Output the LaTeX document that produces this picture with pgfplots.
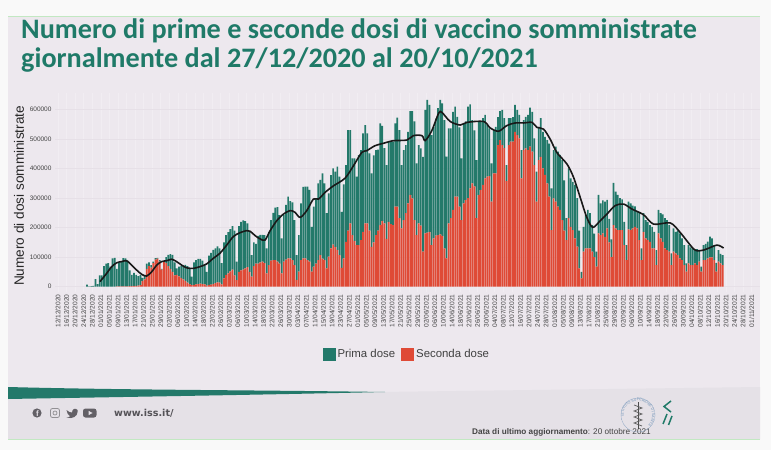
\documentclass[border=0pt]{standalone}
\usepackage{fontspec}
\setmainfont{Liberation Sans}
\newfontfamily\titlefont{Carlito}
\newfontfamily\wwwfont{DejaVu Sans}
\usepackage{pgfplots}
\pgfplotsset{compat=1.18}
\usetikzlibrary{decorations.text}
\definecolor{slide}{HTML}{EDE8EE}
\definecolor{outer}{HTML}{F9F9F9}
\definecolor{foot}{HTML}{E5E1E7}
\definecolor{paleg}{HTML}{C2E8C2}
\definecolor{verde}{HTML}{23796A}
\definecolor{rosso}{HTML}{DF4A36}
\definecolor{titolo}{HTML}{1F7A68}
\definecolor{grigio}{HTML}{444444}
\definecolor{griglia}{HTML}{F1EDF2}
\definecolor{grigliay}{HTML}{E6E0E7}
\definecolor{icona}{HTML}{636066}
\definecolor{anello}{HTML}{6F93B8}
\begin{document}
\begin{tikzpicture}
\path[use as bounding box] (0,0) rectangle (771pt,450pt);
\begin{scope}[x=1pt,y=-1pt,shift={(0pt,450pt)}]
\fill[outer] (0,0) rectangle (771,450);
\fill[slide] (8,17) rectangle (760,440);
\fill[foot] (8,398) -- (380,392) -- (760,387) -- (760,439) -- (8,439) -- cycle;
\fill[paleg] (8,16) rectangle (760,17);
\fill[paleg] (8,438.5) rectangle (760,440);
\fill[verde] (8,387) .. controls (120,390) and (250,390) .. (385,392) .. controls (250,395) and (120,397) .. (8,399) -- cycle;
\end{scope}
\begin{axis}[
  at={(55pt,158pt)},anchor=south west,scale only axis,width=705pt,height=199pt,
  xmin=0.1,xmax=329.4,ymin=-18000,ymax=656600,
  ybar stacked,bar width=1.7pt,
  axis line style={draw=none},tick style={draw=none},
  xtick={1.5,5.5,...,325.5},
  xticklabels={12/12/2020,16/12/2020,20/12/2020,24/12/2020,28/12/2020,01/01/2021,05/01/2021,09/01/2021,13/01/2021,17/01/2021,21/01/2021,25/01/2021,29/01/2021,02/02/2021,06/02/2021,10/02/2021,14/02/2021,18/02/2021,22/02/2021,26/02/2021,02/03/2021,06/03/2021,10/03/2021,14/03/2021,18/03/2021,22/03/2021,26/03/2021,30/03/2021,03/04/2021,07/04/2021,11/04/2021,15/04/2021,19/04/2021,23/04/2021,27/04/2021,01/05/2021,05/05/2021,09/05/2021,13/05/2021,17/05/2021,21/05/2021,25/05/2021,29/05/2021,02/06/2021,06/06/2021,10/06/2021,14/06/2021,18/06/2021,22/06/2021,26/06/2021,30/06/2021,04/07/2021,08/07/2021,12/07/2021,16/07/2021,20/07/2021,24/07/2021,28/07/2021,01/08/2021,05/08/2021,09/08/2021,13/08/2021,17/08/2021,21/08/2021,25/08/2021,29/08/2021,02/09/2021,06/09/2021,10/09/2021,14/09/2021,18/09/2021,22/09/2021,26/09/2021,30/09/2021,04/10/2021,08/10/2021,12/10/2021,16/10/2021,20/10/2021,24/10/2021,28/10/2021,01/11/2021},
  x tick label style={rotate=90,anchor=east,font=\fontsize{6.6}{7}\selectfont,text=grigio,yshift=0pt},
  xticklabel shift=-1pt,
  ytick={0,100000,200000,300000,400000,500000,600000},
  scaled y ticks=false,
  y tick label style={font=\fontsize{6.5}{7}\selectfont,text=grigio,/pgf/number format/fixed,/pgf/number format/1000 sep={},/pgf/number format/assume math mode=true},
  ymajorgrids,xmajorgrids,
  x grid style={griglia,line width=0.6pt},
  y grid style={grigliay,line width=0.5pt},
  ylabel={Numero di dosi somministrate},
  ylabel style={font=\fontsize{13.6}{15}\selectfont,text=black!85,at={(axis description cs:-0.051,0.483)},anchor=center},
  legend style={at={(0.499,-0.3116)},anchor=center,draw=none,fill=none,legend columns=2,font=\fontsize{11.4}{13}\selectfont,text=black!75,/tikz/every even column/.append style={column sep=4pt}},
  reverse legend,
  legend image code/.code={\fill[#1] (0pt,-6.5pt) rectangle (13pt,6.5pt);},
]
\addplot[fill=rosso,draw=none] coordinates {(15,0)(16,0)(17,0)(18,0)(19,0)(20,0)(21,0)(22,0)(23,0)(24,0)(25,0)(26,0)(27,0)(28,0)(29,1000)(30,1000)(31,1000)(32,1000)(33,1000)(34,1000)(35,2000)(36,2000)(37,3000)(38,3000)(39,4000)(40,5000)(41,20000)(42,25000)(43,60000)(44,70000)(45,65000)(46,80000)(47,92000)(48,95000)(49,85000)(50,58000)(51,85000)(52,80000)(53,70000)(54,60000)(55,50000)(56,38000)(57,40000)(58,35000)(59,30000)(60,25000)(61,20000)(62,14000)(63,9000)(64,5000)(65,6000)(66,8000)(67,9000)(68,10000)(69,9000)(70,8000)(71,4000)(72,6000)(73,7000)(74,9000)(75,12000)(76,15000)(77,14000)(78,8000)(79,28000)(80,40000)(81,45000)(82,52000)(83,58000)(84,38000)(85,22000)(86,50000)(87,55000)(88,58000)(89,62000)(90,66000)(91,50000)(92,34000)(93,70000)(94,78000)(95,78000)(96,82000)(97,85000)(98,80000)(99,45000)(100,73000)(101,88000)(102,90000)(103,90000)(104,85000)(105,78000)(106,45000)(107,85000)(108,92000)(109,96000)(110,96000)(111,90000)(112,73000)(113,23000)(114,51000)(115,90000)(116,96000)(117,96000)(118,90000)(119,85000)(120,51000)(121,68000)(122,78000)(123,90000)(124,107000)(125,95000)(126,90000)(127,62000)(128,102000)(129,130000)(130,143000)(131,135000)(132,125000)(133,107000)(134,64000)(135,96000)(136,152000)(137,190000)(138,215000)(139,175000)(140,155000)(141,141000)(142,141000)(143,158000)(144,186000)(145,215000)(146,215000)(147,190000)(148,135000)(149,150000)(150,175000)(151,190000)(152,209000)(153,223000)(154,215000)(155,162000)(156,220000)(157,212000)(158,209000)(159,271000)(160,271000)(161,232000)(162,198000)(163,226000)(164,249000)(165,282000)(166,311000)(167,299000)(168,226000)(169,175000)(170,215000)(171,207000)(172,119000)(173,181000)(174,183000)(175,186000)(176,141000)(177,164000)(178,173000)(179,175000)(180,177000)(181,172000)(182,130000)(183,96000)(184,215000)(185,232000)(186,260000)(187,305000)(188,305000)(189,271000)(190,226000)(191,282000)(192,294000)(193,300000)(194,333000)(195,350000)(196,340000)(197,232000)(198,311000)(199,328000)(200,345000)(201,367000)(202,373000)(203,375000)(204,288000)(205,384000)(206,384000)(207,480000)(208,497000)(209,480000)(210,470000)(211,358000)(212,480000)(213,492000)(214,492000)(215,525000)(216,514000)(217,503000)(218,367000)(219,463000)(220,469000)(221,463000)(222,475000)(223,458000)(224,412000)(225,288000)(226,429000)(227,440000)(228,401000)(229,379000)(230,350000)(231,305000)(232,192000)(233,299000)(234,288000)(235,271000)(236,260000)(237,226000)(238,190000)(239,158000)(240,232000)(241,203000)(242,192000)(243,164000)(244,136000)(245,62000)(246,28000)(247,119000)(248,130000)(249,130000)(250,130000)(251,119000)(252,100000)(253,68000)(254,181000)(255,175000)(256,181000)(257,169000)(258,198000)(259,150000)(260,100000)(261,209000)(262,198000)(263,192000)(264,192000)(265,192000)(266,141000)(267,90000)(268,194000)(269,192000)(270,198000)(271,203000)(272,198000)(273,158000)(274,90000)(275,186000)(276,164000)(277,158000)(278,152000)(279,130000)(280,130000)(281,73000)(282,181000)(283,164000)(284,152000)(285,130000)(286,124000)(287,119000)(288,73000)(289,119000)(290,113000)(291,107000)(292,96000)(293,90000)(294,73000)(295,51000)(296,79000)(297,73000)(298,73000)(299,79000)(300,73000)(301,85000)(302,51000)(303,90000)(304,90000)(305,96000)(306,99000)(307,99000)(308,90000)(309,51000)(310,85000)(311,79000)(312,73000)};
\addlegendentry{Seconda dose}
\addplot[fill=verde,draw=none] coordinates {(15,7000)(16,1000)(17,2000)(18,3000)(19,26000)(20,9000)(21,38000)(22,38000)(23,70000)(24,78000)(25,80000)(26,68000)(27,96000)(28,98000)(29,59000)(30,79000)(31,83000)(32,96000)(33,95000)(34,87000)(35,53000)(36,38000)(37,44000)(38,37000)(39,32000)(40,34000)(41,10000)(42,15000)(43,18000)(44,12000)(45,8000)(46,5000)(47,5000)(48,3000)(49,5000)(50,2000)(51,2000)(52,20000)(53,38000)(54,50000)(55,58000)(56,44000)(57,22000)(58,33000)(59,40000)(60,47000)(61,54000)(62,56000)(63,51000)(64,29000)(65,76000)(66,82000)(67,85000)(68,84000)(69,79000)(70,67000)(71,46000)(72,99000)(73,108000)(74,116000)(75,118000)(76,122000)(77,116000)(78,72000)(79,122000)(80,135000)(81,140000)(82,143000)(83,147000)(84,152000)(85,63000)(86,155000)(87,165000)(88,167000)(89,160000)(90,149000)(91,136000)(92,73000)(93,80000)(94,67000)(95,94000)(96,94000)(97,91000)(98,95000)(99,85000)(100,113000)(101,138000)(102,160000)(103,178000)(104,185000)(105,165000)(106,119000)(107,158000)(108,185000)(109,209000)(110,194000)(111,196000)(112,153000)(113,84000)(114,124000)(115,192000)(116,242000)(117,243000)(118,249000)(119,243000)(120,152000)(121,203000)(122,222000)(123,260000)(124,255000)(125,289000)(126,260000)(127,187000)(128,214000)(129,248000)(130,258000)(131,255000)(132,282000)(133,266000)(134,190000)(135,251000)(136,260000)(137,341000)(138,316000)(139,260000)(140,280000)(141,232000)(142,305000)(143,305000)(144,334000)(145,333000)(146,305000)(147,262000)(148,249000)(149,295000)(150,288000)(151,275000)(152,345000)(153,322000)(154,255000)(155,250000)(156,270000)(157,278000)(158,283000)(159,283000)(160,302000)(161,299000)(162,214000)(163,237000)(164,231000)(165,243000)(166,284000)(167,296000)(168,334000)(169,243000)(170,265000)(171,262000)(172,321000)(173,418000)(174,450000)(175,430000)(176,373000)(177,378000)(178,397000)(179,430000)(180,456000)(181,449000)(182,435000)(183,345000)(184,322000)(185,305000)(186,333000)(187,305000)(188,271000)(189,269000)(190,209000)(191,272000)(192,266000)(193,310000)(194,285000)(195,215000)(196,190000)(197,197000)(198,248000)(199,231000)(200,226000)(201,215000)(202,175000)(203,162000)(204,130000)(205,147000)(206,158000)(207,95000)(208,98000)(209,119000)(210,101000)(211,54000)(212,91000)(213,79000)(214,83000)(215,91000)(216,85000)(217,79000)(218,96000)(219,102000)(220,107000)(221,119000)(222,132000)(223,135000)(224,91000)(225,102000)(226,113000)(227,131000)(228,124000)(229,129000)(230,147000)(231,180000)(232,141000)(233,164000)(234,187000)(235,187000)(236,187000)(237,203000)(238,170000)(239,74000)(240,169000)(241,164000)(242,163000)(243,181000)(244,164000)(245,128000)(246,22000)(247,84000)(248,113000)(249,130000)(250,119000)(251,90000)(252,80000)(253,51000)(254,130000)(255,107000)(256,112000)(257,119000)(258,96000)(259,80000)(260,60000)(261,143000)(262,124000)(263,119000)(264,108000)(265,104000)(266,79000)(267,51000)(268,94000)(269,90000)(270,77000)(271,69000)(272,56000)(273,96000)(274,40000)(275,63000)(276,62000)(277,62000)(278,57000)(279,73000)(280,56000)(281,51000)(282,79000)(283,85000)(284,93000)(285,102000)(286,102000)(287,90000)(288,40000)(289,79000)(290,73000)(291,83000)(292,85000)(293,74000)(294,68000)(295,28000)(296,62000)(297,60000)(298,57000)(299,45000)(300,54000)(301,39000)(302,17000)(303,51000)(304,55000)(305,57000)(306,71000)(307,65000)(308,51000)(309,30000)(310,39000)(311,32000)(312,34000)};
\addlegendentry{Prima dose}
\end{axis}
\begin{axis}[
  at={(55pt,158pt)},anchor=south west,scale only axis,width=705pt,height=199pt,
  xmin=0.1,xmax=329.4,ymin=-18000,ymax=656600,hide axis,
]
\addplot[black!90,line width=1.6pt,smooth,tension=0.5] coordinates {(21.1,17000)(24.2,45000)(26.6,68000)(28.9,81000)(31.2,85000)(33.6,88000)(35.9,73000)(38.3,56000)(40.6,42000)(42.9,36000)(45.3,51000)(47.6,73000)(49.9,85000)(52.3,88000)(54.6,93000)(56.9,85000)(59.3,73000)(61.6,64000)(64.7,62000)(67.8,68000)(70.9,77000)(74,96000)(77.1,113000)(80.3,141000)(83.4,170000)(86.5,183000)(89.6,190000)(91.2,188000)(93.6,173000)(95.9,162000)(98.2,158000)(100.6,190000)(103.7,224000)(106.8,246000)(109.9,258000)(112.2,252000)(114.6,235000)(117.7,258000)(120.8,297000)(123.2,297000)(126.3,320000)(130.2,342000)(135.6,368000)(139.5,410000)(143.4,455000)(145.7,461000)(149.6,478000)(153.5,486000)(158.2,495000)(164.4,497000)(167.5,512000)(171.5,512000)(173,495000)(176.1,529000)(179.3,588000)(180.8,591000)(184.7,560000)(189.4,548000)(192.5,557000)(200.3,560000)(203.4,538000)(207.3,527000)(211.1,546000)(215,555000)(219,555000)(222.9,557000)(225.2,540000)(228.3,534000)(231.4,500000)(234.5,455000)(239.2,416000)(242.3,371000)(245.4,303000)(248.5,235000)(251.3,201000)(254.8,224000)(257.9,246000)(261.8,275000)(265.7,280000)(269.6,263000)(275,244000)(279.7,212000)(287.5,216000)(292.1,184000)(298.4,128000)(301.5,122000)(304.6,128000)(309.3,141000)(312.4,131000)};
\end{axis}
\begin{scope}[x=1pt,y=-1pt,shift={(0pt,450pt)}]
\node[anchor=base west,inner sep=0pt,text=titolo] at (21,39) {\titlefont\bfseries\fontsize{28.2}{30}\selectfont Numero di prime e seconde dosi di vaccino somministrate};
\node[anchor=base west,inner sep=0pt,text=titolo] at (21,67.5) {\titlefont\bfseries\fontsize{28.2}{30}\selectfont giornalmente dal 27/12/2020 al 20/10/2021};
\fill[icona] (37,413) circle (4.6);
\node[text=foot,inner sep=0pt] at (37.5,413.6) {\bfseries\fontsize{8}{8}\selectfont f};
\draw[icona!70,line width=0.8pt,rounded corners=2pt] (50.5,408.5) rectangle (59.5,417.5);
\draw[icona!70,line width=0.7pt] (55,413) circle (2);
\fill[icona] (66.5,410) .. controls (69,412) and (70,412.5) .. (72,412.5) .. controls (72,409) and (75.5,407.5) .. (77.5,410) -- (77.5,412) .. controls (77.5,416) and (73,419.5) .. (66.5,417.5) .. controls (69,417.5) and (70,416.5) .. (70,416) .. controls (68,415) and (67,413) .. (66.5,410) -- cycle;
\fill[icona,rounded corners=2.5pt] (83,408.5) rectangle (96.5,417.5);
\fill[foot] (88.5,410.8) -- (92.5,413) -- (88.5,415.2) -- cycle;
\node[anchor=base west,inner sep=0pt,text=icona!85!black] at (114,416.5) {\wwwfont\bfseries\fontsize{9.6}{10}\selectfont www.iss.it/};
\draw[black!70,line width=1pt] (638,402) -- (638,429);
\draw[black!65,line width=0.7pt] (634,405) -- (642,408) -- (634,411) -- (642,414) -- (634,417) -- (642,420) -- (634,423) -- (642,426);
\draw[titolo,line width=1.5pt] (671,401) -- (664,406.5) -- (671,412);
\draw[titolo,line width=1.5pt] (663,424) -- (667,414);
\draw[titolo,line width=1.5pt] (668.5,425) -- (672,416);
\node[anchor=base west,inner sep=0pt,text=grigio] at (472,434) {\fontsize{8.2}{9}\selectfont\textbf{Data di ultimo aggiornamento}: 20 ottobre 2021};
\end{scope}
\begin{scope}[shift={(638pt,35pt)}]
\path[decorate,decoration={text along path,text align=center,text={|\fontsize{3.6}{4}\selectfont\color{anello}|ISTITUTO SUPERIORE DI SANITA}}] (200:14.2pt) arc[start angle=200,end angle=-60,radius=14.2pt];
\draw[anello,line width=0.3pt,dash pattern=on 0.7pt off 0.5pt] (0,0) circle (17pt);
\end{scope}
\end{tikzpicture}
\end{document}
